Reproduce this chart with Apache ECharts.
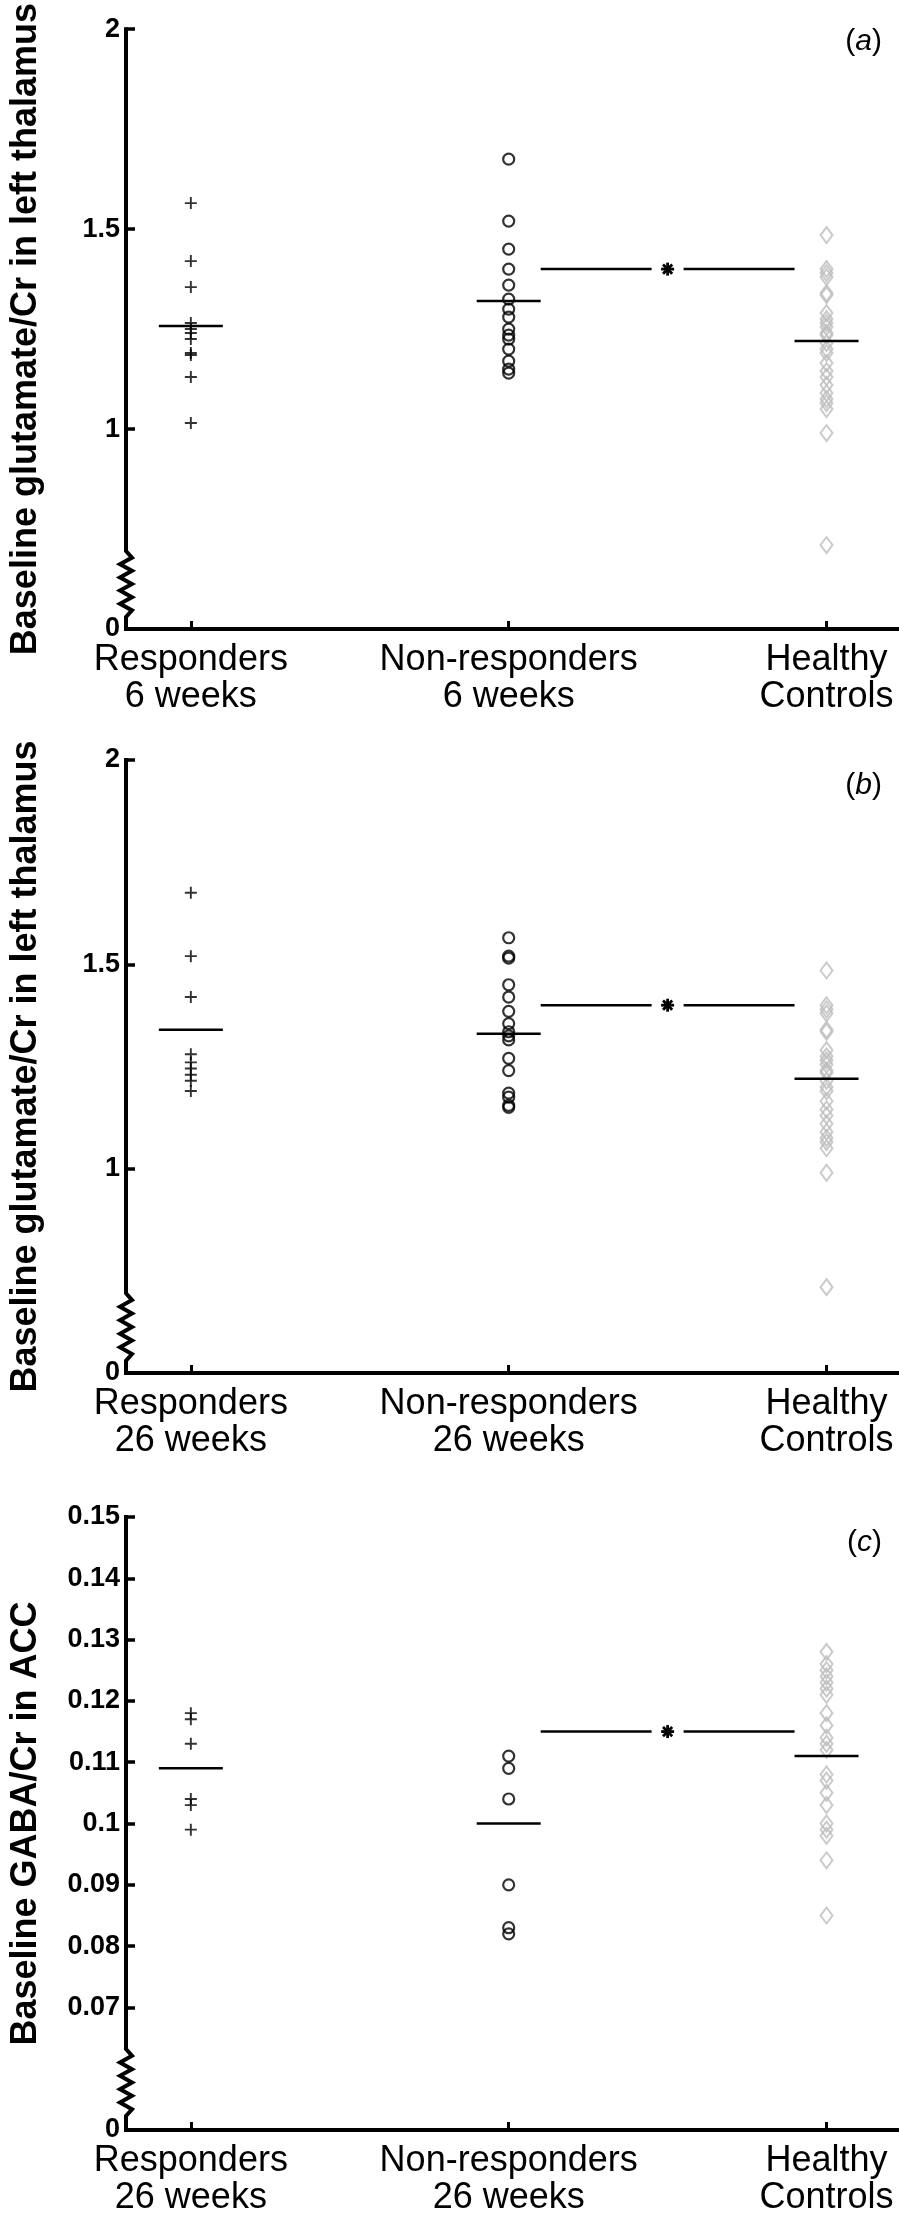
<!DOCTYPE html>
<html>
<head>
<meta charset="utf-8">
<script src="https://cdn.jsdelivr.net/npm/echarts@6/dist/echarts.min.js"></script>
<style>
  html, body { margin: 0; padding: 0; background: #fff; }
  #chart { width: 899px; height: 2219px; }
</style>
</head>
<body>
<div id="chart"></div>
<script>
// ---------- data ----------
const groupPos = [1, 2, 3]; // Responders, Non-responders, Healthy Controls
const labelsA = ['Responders\n6 weeks', 'Non-responders\n6 weeks', 'Healthy\nControls'];
const labelsB = ['Responders\n26 weeks', 'Non-responders\n26 weeks', 'Healthy\nControls'];
const labelsC = ['Responders\n26 weeks', 'Non-responders\n26 weeks', 'Healthy\nControls'];

const gluTicks = [1, 1.5, 2];
const gluLabels = [0.5, 1, 1.5, 2];           // 0.5 position shown as "0" (broken axis)
const gabaTicks = [0.07, 0.08, 0.09, 0.10, 0.11, 0.12, 0.13, 0.14, 0.15];
const gabaLabels = [0.05, 0.07, 0.08, 0.09, 0.10, 0.11, 0.12, 0.13, 0.14, 0.15];

// Panel (a) glutamate/Cr, 6 weeks
const aResponders = [1.565, 1.42, 1.355, 1.265, 1.25, 1.24, 1.225, 1.19, 1.185, 1.13, 1.015];
const aNonResponders = [1.675, 1.52, 1.45, 1.40, 1.36, 1.325, 1.30, 1.28, 1.25, 1.235, 1.225, 1.20, 1.17, 1.15, 1.14];
const aMeans = [1.258, 1.32, 1.22];
const aSig = 1.40;

// Panel (b) glutamate/Cr, 26 weeks
const bResponders = [1.675, 1.52, 1.42, 1.28, 1.26, 1.245, 1.23, 1.215, 1.19];
const bNonResponders = [1.565, 1.52, 1.515, 1.45, 1.42, 1.385, 1.355, 1.335, 1.325, 1.315, 1.27, 1.24, 1.185, 1.175, 1.155, 1.15];
const bMeans = [1.34, 1.33, 1.22];
const bSig = 1.40;

// Healthy controls glutamate/Cr (same in a and b)
const hcGlutamate = [1.485, 1.40, 1.39, 1.38, 1.34, 1.335, 1.29, 1.275, 1.265, 1.255, 1.24, 1.235, 1.215, 1.20, 1.19, 1.165, 1.145, 1.13, 1.11, 1.09, 1.075, 1.065, 1.05, 0.99, 0.71];

// Panel (c) GABA/Cr in ACC, 26 weeks
const cResponders = [0.118, 0.117, 0.113, 0.104, 0.103, 0.099];
const cNonResponders = [0.111, 0.109, 0.104, 0.090, 0.083, 0.082];
const hcGaba = [0.128, 0.126, 0.125, 0.124, 0.123, 0.122, 0.121, 0.118, 0.116, 0.114, 0.113, 0.112, 0.108, 0.107, 0.105, 0.103, 0.100, 0.099, 0.098, 0.094, 0.085];
const cMeans = [0.109, 0.100, 0.111];
const cSig = 0.115;

// ---------- layout / style ----------
const X_MIN = 0.796, X_MAX = 3.228;
const FONT = 'Liberation Sans, Arial, sans-serif';
const panels = [
  { top: 16,   height: 613, yMin: 0.5,  yMax: 2,    brkHi: 0.695,  brkLo: 0.53,   ticks: gluTicks,  labels: gluLabels,  xl: labelsA,
    name: 'Baseline glutamate/Cr in left thalamus', resp: aResponders, non: aNonResponders, hc: hcGlutamate, means: aMeans, sig: aSig, tag: 'a', dec: 1 },
  { top: 760,  height: 613, yMin: 0.5,  yMax: 2,    brkHi: 0.695,  brkLo: 0.53,   ticks: gluTicks,  labels: gluLabels,  xl: labelsB,
    name: 'Baseline glutamate/Cr in left thalamus', resp: bResponders, non: bNonResponders, hc: hcGlutamate, means: bMeans, sig: bSig, tag: 'b', dec: 1 },
  { top: 1517, height: 613, yMin: 0.05, yMax: 0.15, brkHi: 0.0632, brkLo: 0.0523, ticks: gabaTicks, labels: gabaLabels, xl: labelsC,
    name: 'Baseline GABA/Cr in ACC', resp: cResponders, non: cNonResponders, hc: hcGaba, means: cMeans, sig: cSig, tag: 'c', dec: 2 }
];

const crossPath = 'path://M0,4.2H4.2V0H5.8V4.2H10V5.8H5.8V10H4.2V5.8H0Z';

const grid = [], xAxis = [], yAxis = [], series = [], title = [];

panels.forEach((p, i) => {
  grid.push({ left: 111, right: 0, top: p.top, height: p.height, containLabel: false });
  xAxis.push({
    type: 'value', gridIndex: i, min: X_MIN, max: X_MAX,
    splitLine: { show: false },
    axisLine: { show: true, lineStyle: { color: '#000', width: 4 } },
    axisTick: { show: true, inside: true, length: 8, customValues: groupPos, lineStyle: { color: '#000', width: 3 } },
    axisLabel: {
      show: true, customValues: groupPos, margin: 13,
      formatter: v => p.xl[Math.round(v) - 1],
      color: '#000', fontFamily: FONT, fontSize: 36, lineHeight: 37
    }
  });
  yAxis.push({
    type: 'value', gridIndex: i, min: p.yMin, max: p.yMax,
    splitLine: { show: false },
    axisLine: { show: false },
    axisTick: { show: true, inside: true, length: 9, customValues: p.ticks, lineStyle: { color: '#000', width: 3.5 } },
    axisLabel: {
      show: true, customValues: p.labels, margin: 6,
      formatter: v => (Math.abs(v - p.yMin) < 1e-9 ? '0' : String(parseFloat(v.toFixed(p.dec + 1)))),
      color: '#000', fontFamily: FONT, fontSize: 27, fontWeight: 'bold'
    },
    name: p.name, nameLocation: 'middle', nameGap: 82, nameRotate: 90,
    nameTextStyle: { color: '#000', fontFamily: FONT, fontSize: 36, fontWeight: 'bold' }
  });

  // broken y-axis line
  series.push({
    type: 'custom', xAxisIndex: i, yAxisIndex: i, silent: true, z: 5,
    data: [[X_MIN, p.yMin]],
    renderItem: (params, api) => {
      const top = api.coord([X_MIN, p.yMax]);
      const hi = api.coord([X_MIN, p.brkHi]);
      const lo = api.coord([X_MIN, p.brkLo]);
      const bot = api.coord([X_MIN, p.yMin]);
      const pts = [[top[0], top[1] - 2], hi];
      const n = 10;
      for (let k = 1; k < n; k++) {
        const y = hi[1] + (lo[1] - hi[1]) * k / n;
        pts.push([hi[0] + (k % 2 ? 6 : -6), y]);
      }
      pts.push(lo, [bot[0], bot[1] + 2]);
      return { type: 'polyline', shape: { points: pts }, style: { stroke: '#000', lineWidth: 4, fill: null } };
    }
  });

  // scatter groups
  series.push({
    type: 'scatter', xAxisIndex: i, yAxisIndex: i, silent: true,
    data: p.resp.map(v => [groupPos[0], v]),
    symbol: crossPath, symbolSize: 12,
    itemStyle: { color: '#000' }
  });
  series.push({
    type: 'scatter', xAxisIndex: i, yAxisIndex: i, silent: true,
    data: p.non.map(v => [groupPos[1], v]),
    symbol: 'circle', symbolSize: 11,
    itemStyle: { color: 'rgba(0,0,0,0)', borderColor: '#000', borderWidth: 2.2 }
  });
  series.push({
    type: 'scatter', xAxisIndex: i, yAxisIndex: i, silent: true,
    data: p.hc.map(v => [groupPos[2], v]),
    symbol: 'diamond', symbolSize: [12, 16],
    itemStyle: { color: 'rgba(0,0,0,0)', borderColor: '#bdbdbd', borderWidth: 2 }
  });

  // mean lines
  series.push({
    type: 'custom', xAxisIndex: i, yAxisIndex: i, silent: true, z: 4,
    data: p.means.map((m, k) => [groupPos[k], m]),
    renderItem: (params, api) => {
      const c = api.coord([api.value(0), api.value(1)]);
      return { type: 'line', shape: { x1: c[0] - 32, y1: c[1], x2: c[0] + 32, y2: c[1] },
               style: { stroke: '#000', lineWidth: 2.5 } };
    }
  });

  // significance bracket between non-responders and healthy controls
  series.push({
    type: 'custom', xAxisIndex: i, yAxisIndex: i, silent: true, z: 4,
    data: [[groupPos[1], p.sig, groupPos[2]]],
    renderItem: (params, api) => {
      const a = api.coord([api.value(0), api.value(1)]);
      const b = api.coord([api.value(2), api.value(1)]);
      const mid = (a[0] + b[0]) / 2, y = a[1];
      const st = { stroke: '#000', lineWidth: 2.5 };
      const kids = [
        { type: 'line', shape: { x1: a[0] + 32, y1: y, x2: mid - 16, y2: y }, style: st },
        { type: 'line', shape: { x1: mid + 16, y1: y, x2: b[0] - 32, y2: y }, style: st }
      ];
      const r = 6.5;
      [0, 45, 90, 135].forEach(deg => {
        const t = deg * Math.PI / 180;
        kids.push({ type: 'line', shape: { x1: mid - r * Math.cos(t), y1: y - r * Math.sin(t), x2: mid + r * Math.cos(t), y2: y + r * Math.sin(t) },
                    style: { stroke: '#000', lineWidth: 2.8 } });
      });
      return { type: 'group', children: kids };
    }
  });

  title.push({
    text: '{p|(}{i|' + p.tag + '}{p|)}',
    right: 12, top: p.top + 6,
    textStyle: {
      fontWeight: 'normal',
      rich: {
        p: { fontFamily: FONT, fontSize: 30, fontWeight: 'normal', color: '#000' },
        i: { fontFamily: FONT, fontSize: 30, fontStyle: 'italic', fontWeight: 'normal', color: '#000' }
      }
    }
  });
});

const chart = echarts.init(document.getElementById('chart'), null, { renderer: 'canvas' });
chart.setOption({
  animation: false,
  backgroundColor: '#fff',
  title, grid, xAxis, yAxis, series
});
</script>
</body>
</html>
